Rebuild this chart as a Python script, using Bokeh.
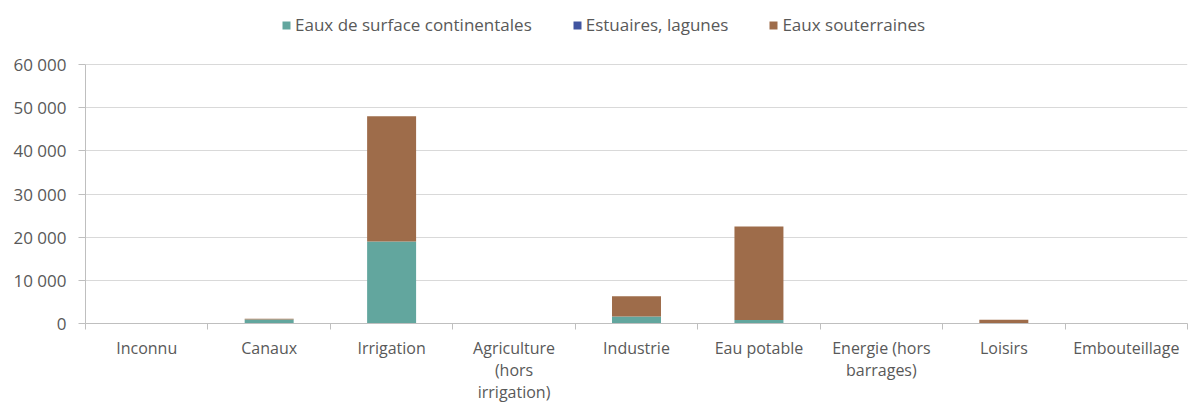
from bokeh.plotting import figure
from bokeh.models import ColumnDataSource, Range1d, FixedTicker, Legend, LegendItem
from bokeh.embed import file_html
from bokeh.resources import INLINE

categories = ["Inconnu", "Canaux", "Irrigation", "Agriculture\n(hors\nirrigation)", "Industrie",
              "Eau potable", "Energie (hors\nbarrages)", "Loisirs", "Embouteillage"]
surface = [0, 900, 19000, 0, 1600, 800, 0, 50, 0]
estuaires = [0, 0, 0, 0, 0, 0, 0, 0, 0]
souterraines = [0, 200, 29000, 0, 4700, 21700, 0, 800, 0]
series_names = ["Eaux de surface continentales", "Estuaires, lagunes", "Eaux souterraines"]
colors = ["#62A69E", "#4054A0", "#9E6C4A"]
y_ticks = [0, 10000, 20000, 30000, 40000, 50000, 60000]
y_tick_labels = ["0", "10 000", "20 000", "30 000", "40 000", "50 000", "60 000"]

xpos = list(range(1, len(categories) + 1))
source = ColumnDataSource(dict(x=xpos, surface=surface, estuaires=estuaires, souterraines=souterraines))

FONT = "Open Sans"
TXT = "#595959"

# frame extends above the 60 000 line to host the legend (same scale: 259 px per 60 000)
FRAME_H = 315
y_top = y_ticks[-1] * FRAME_H / 259.0

p = figure(output_backend="svg", toolbar_location=None,
           frame_width=1102, frame_height=FRAME_H,
           min_border_left=85, min_border_right=3, min_border_top=8, min_border_bottom=82,
           x_range=Range1d(0.5, len(categories) + 0.5), y_range=Range1d(0, y_top))
p.outline_line_color = None

renderers = p.vbar_stack(["surface", "estuaires", "souterraines"], x="x", width=0.4,
                         color=colors, line_color=None, source=source)

legend = Legend(items=[LegendItem(label=n, renderers=[r]) for n, r in zip(series_names, renderers)],
                orientation="horizontal", location=(196, FRAME_H - 28),
                label_text_font=FONT, label_text_font_size="17px", label_text_color=TXT,
                glyph_width=10, glyph_height=10, spacing=40, label_standoff=4,
                border_line_color=None, background_fill_alpha=0, padding=0, margin=0)
p.add_layout(legend, "center")

# y axis
p.yaxis.bounds = (y_ticks[0], y_ticks[-1])
p.yaxis.ticker = FixedTicker(ticks=y_ticks)
p.yaxis.major_label_overrides = dict(zip(y_ticks, y_tick_labels))
p.yaxis.major_label_text_font = FONT
p.yaxis.major_label_text_font_size = "17px"
p.yaxis.major_label_text_color = TXT
p.yaxis.axis_line_color = "#BFBFBF"
p.yaxis.major_tick_line_color = "#BFBFBF"
p.yaxis.major_tick_in = 0
p.yaxis.major_tick_out = 7
p.yaxis.minor_tick_line_color = None
p.yaxis.major_label_standoff = 12

# x axis
p.xaxis.ticker = FixedTicker(ticks=xpos, minor_ticks=[x + 0.5 for x in [0] + xpos])
p.xaxis.major_label_overrides = dict(zip(xpos, categories))
p.xaxis.major_label_text_font = FONT
p.xaxis.major_label_text_font_size = "16px"
p.xaxis.major_label_text_line_height = 1.0
p.xaxis.major_label_text_color = TXT
p.xaxis.axis_line_color = "#BFBFBF"
p.xaxis.major_tick_line_color = None
p.xaxis.minor_tick_line_color = "#BFBFBF"
p.xaxis.minor_tick_in = 0
p.xaxis.minor_tick_out = 6
p.xaxis.major_label_standoff = 7

p.xgrid.grid_line_color = None
p.ygrid.grid_line_color = "#D9D9D9"
p.ygrid.ticker = FixedTicker(ticks=y_ticks)

open("out.html", "w").write(file_html(p, INLINE))
